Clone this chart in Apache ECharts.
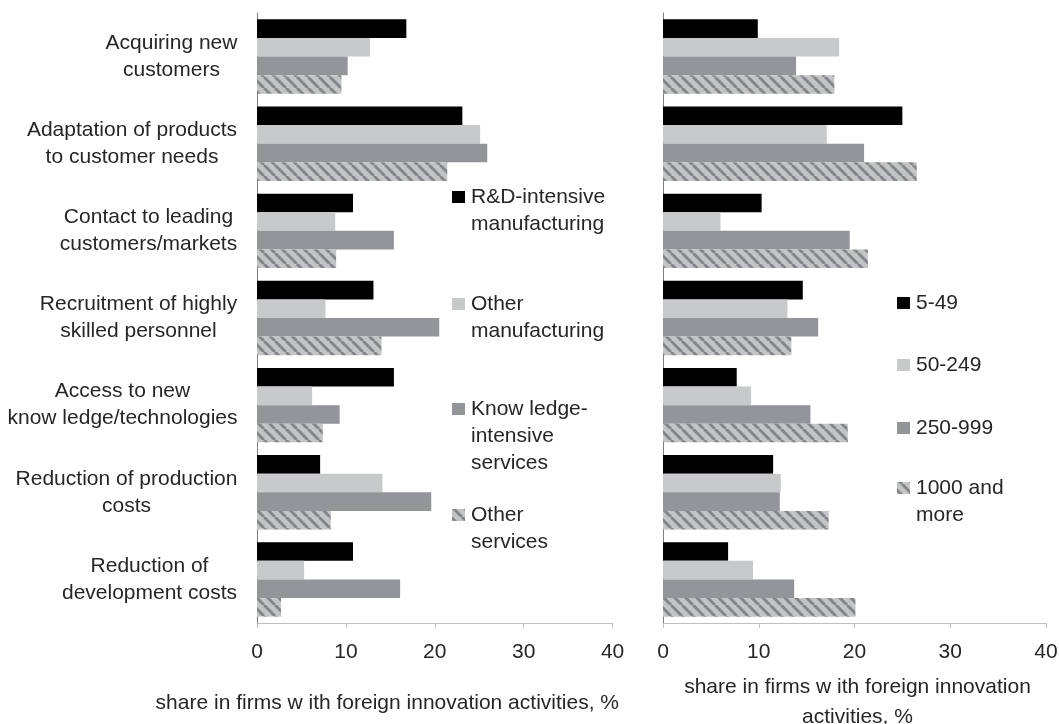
<!DOCTYPE html>
<html>
<head>
<meta charset="utf-8">
<title>Motives for foreign innovation activities</title>
<script src="https://cdn.jsdelivr.net/npm/echarts@6/dist/echarts.min.js"></script>
<style>
html, body { margin: 0; padding: 0; background: #fff; }
#main { width: 1059px; height: 724px; }
</style>
</head>
<body>
<div id="main"></div>
<script>
var categories = [
  'Acquiring new\ncustomers',
  'Adaptation of products\nto customer needs',
  'Contact to leading\ncustomers/markets',
  'Recruitment of highly\nskilled personnel',
  'Access to new\nknow ledge/technologies',
  'Reduction of production\ncosts',
  'Reduction of\ndevelopment costs'
];
var xTicks = { min: 0, max: 40, interval: 10 };

// left panel: by sector
var sectorNames = ['R&D-intensive\nmanufacturing', 'Other\nmanufacturing', 'Know ledge-\nintensive\nservices', 'Other\nservices'];
var rdManufacturing = [16.8, 23.1, 10.8, 13.1, 15.4, 7.1, 10.8];
var otherManufacturing = [12.7, 25.1, 8.8, 7.7, 6.2, 14.1, 5.3];
var knowledgeServices = [10.2, 25.9, 15.4, 20.5, 9.3, 19.6, 16.1];
var otherServices = [9.5, 21.4, 8.9, 14.0, 7.4, 8.3, 2.7];

// right panel: by firm size
var sizeNames = ['5-49', '50-249', '250-999', '1000 and\nmore'];
var size5to49 = [9.9, 25.0, 10.3, 14.6, 7.7, 11.5, 6.8];
var size50to249 = [18.4, 17.1, 6.0, 13.0, 9.2, 12.3, 9.4];
var size250to999 = [13.9, 21.0, 19.5, 16.2, 15.4, 12.2, 13.7];
var size1000plus = [17.9, 26.5, 21.4, 13.4, 19.3, 17.3, 20.1];

var FONT = '"Liberation Sans", Arial, sans-serif';
var TEXT = '#262626';

// diagonal hatch used for the 4th series
function hatchTile() {
  var s = 11;
  var c = document.createElement('canvas');
  c.width = s; c.height = s;
  var ctx = c.getContext('2d');
  ctx.fillStyle = '#c3c4c6';
  ctx.fillRect(0, 0, s, s);
  ctx.strokeStyle = '#85868a';
  ctx.lineWidth = 3;
  for (var k = -1; k <= 1; k++) {
    ctx.beginPath();
    ctx.moveTo(k * s, 0);
    ctx.lineTo(k * s + s, s);
    ctx.stroke();
  }
  return c;
}
var hatch = { image: hatchTile(), repeat: 'repeat' };
var colors = ['#000000', '#c8c9cb', '#939598', hatch];

// labels: block right-aligned, lines centred inside the block
var mc = document.createElement('canvas').getContext('2d');
mc.font = '21px "Liberation Sans"';
var rich = {};
categories.forEach(function (c, i) {
  var w = 0;
  c.split('\n').forEach(function (l) { w = Math.max(w, mc.measureText(l).width); });
  rich['c' + i] = { width: Math.ceil(w) + 1, align: 'center', fontSize: 21, lineHeight: 27, fontFamily: FONT, color: TEXT };
});

function bar(name, data, color, idx) {
  return {
    name: name, type: 'bar', xAxisIndex: idx, yAxisIndex: idx,
    data: data, barGap: '0%', barCategoryGap: '14.6%',
    itemStyle: { color: color }, silent: true
  };
}

function valueAxis(idx, name, gap, nameStyle) {
  return {
    gridIndex: idx, type: 'value', min: xTicks.min, max: xTicks.max, interval: xTicks.interval,
    axisLine: { show: true, lineStyle: { color: '#bfbfbf', width: 1 } },
    axisTick: { show: true, length: 5, lineStyle: { color: '#bfbfbf' } },
    splitLine: { show: false },
    axisLabel: { fontSize: 21, fontFamily: FONT, color: TEXT, margin: 19 },
    name: name, nameLocation: 'middle', nameGap: gap,
    nameTextStyle: nameStyle
  };
}

function catAxis(idx, showLabels) {
  return {
    gridIndex: idx, type: 'category', data: categories, inverse: true,
    axisLine: { show: true, lineStyle: { color: '#7f7f7f', width: 1 } },
    axisTick: { show: false },
    splitLine: { show: false },
    axisLabel: {
      show: showLabels, margin: 19, rich: rich,
      formatter: function (v, i) {
        return v.split('\n').map(function (l) { return '{c' + i + '|' + l + '}'; }).join('\n');
      }
    }
  };
}

function legendItems(x, centers, names) {
  var out = [];
  names.forEach(function (n, i) {
    out.push({ type: 'rect', shape: { x: x, y: centers[i] - 6, width: 13, height: 12 }, style: { fill: colors[i] } });
    out.push({
      type: 'text', x: x + 19, y: centers[i] - 13.5,
      style: { text: n, fontSize: 21, fontFamily: FONT, fill: TEXT, lineHeight: 27, verticalAlign: 'top' }
    });
  });
  return out;
}

var chart = echarts.init(document.getElementById('main'));
chart.setOption({
  animation: false,
  backgroundColor: '#ffffff',
  grid: [
    { left: 257, top: 13, width: 355.6, height: 610, outerBoundsMode: 'none' },
    { left: 663, top: 13, width: 383, height: 610, outerBoundsMode: 'none' }
  ],
  xAxis: [
    valueAxis(0, 'share in firms w ith foreign innovation activities, %', 70,
      { fontSize: 21, fontFamily: FONT, color: TEXT, padding: [0, 95, 0, 0] }),
    valueAxis(1, 'share in firms w ith foreign innovation\nactivities, %', 49,
      { fontSize: 21, fontFamily: FONT, color: TEXT, lineHeight: 30, padding: [0, 0, 0, 6] })
  ],
  yAxis: [catAxis(0, true), catAxis(1, false)],
  series: [
    bar(sectorNames[0], rdManufacturing, colors[0], 0),
    bar(sectorNames[1], otherManufacturing, colors[1], 0),
    bar(sectorNames[2], knowledgeServices, colors[2], 0),
    bar(sectorNames[3], otherServices, colors[3], 0),
    bar(sizeNames[0], size5to49, colors[0], 1),
    bar(sizeNames[1], size50to249, colors[1], 1),
    bar(sizeNames[2], size250to999, colors[2], 1),
    bar(sizeNames[3], size1000plus, colors[3], 1)
  ],
  graphic: legendItems(452, [197, 304, 409, 515], sectorNames)
    .concat(legendItems(897, [303, 365, 428, 488], sizeNames))
});
</script>
</body>
</html>
